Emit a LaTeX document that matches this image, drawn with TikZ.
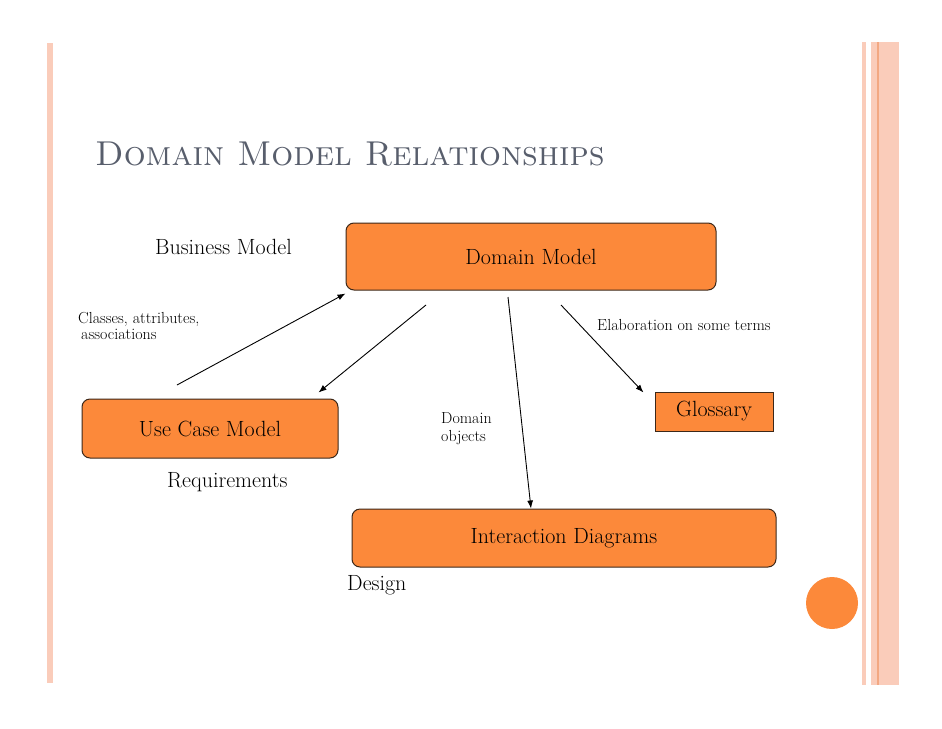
\documentclass[tikz,border=0pt]{standalone}
\usetikzlibrary{arrows.meta,calc}

\definecolor{boxorange}{RGB}{252,137,58}
\definecolor{boxline}{RGB}{60,40,25}
\definecolor{titlegray}{RGB}{88,94,108}
\definecolor{barpink}{RGB}{250,204,186}
\definecolor{barline}{RGB}{243,168,130}

\begin{document}
\begin{tikzpicture}[x=1pt,y=-1pt,
    model/.style={draw=boxline, fill=boxorange, rounded corners=8pt, line width=1pt,
      font=\fontsize{22}{26}\selectfont},
    term/.style={draw=boxline, fill=boxorange, line width=1pt, font=\fontsize{22}{26}\selectfont},
    plain/.style={font=\fontsize{22}{26}\selectfont, inner sep=0pt, anchor=base west},
    note/.style={font=\fontsize{16}{19}\selectfont, inner sep=0pt, anchor=base west},
    link/.style={-{Latex[length=8pt,width=6pt]}, line width=0.9pt}]
  \useasboundingbox (0,0) rectangle (942,728);

  % page decoration
  \fill[barpink] (47,43) rectangle (53,683);
  \fill[barpink] (862,42) rectangle (866,685);
  \fill[barpink] (871,42) rectangle (899,685);
  \fill[barline] (877,42) rectangle (879,685);
  \fill[boxorange] (832,603) circle (26);

  \node[plain, font=\fontsize{34.5}{38}\selectfont\scshape, text=titlegray] (title) at (95,165)
    {Domain Model Relationships};

  % models
  \node[model, minimum width=370, minimum height=67] (domain) at (531,256.5) {Domain Model};
  \node[model, minimum width=256, minimum height=59] (usecase) at (210,428.5) {Use Case Model};
  \node[term, minimum width=118, minimum height=39] (glossary) at (714,411.5) {Glossary};
  \node[model, minimum width=424, minimum height=58] (interact) at (564,538) {Interaction Diagrams};

  % labels
  \node[plain] (business) at (155,254) {Business Model};
  \node[plain] (require) at (167,487) {Requirements};
  \node[plain] (design) at (347,590) {Design};
  \node[note] (classes) at (78,323) {Classes, attributes,};
  \node[note] (assoc) at (81,339) {associations};
  \node[note] (elab) at (597,330) {Elaboration on some terms};
  \node[note] (dom) at (441,423) {Domain};
  \node[note] (obj) at (441,441) {objects};

  % connectors
  \coordinate (ucm-out) at (177,385);
  \coordinate (dm-left) at (426,305);
  \coordinate (dm-mid) at (508,297);
  \coordinate (dm-right) at (561,305);
  \draw[link] (ucm-out) -- ($(domain.south west)+(0,3)$);
  \draw[link] (dm-left) -- ($(usecase.north east)+(-20,-6)$);
  \draw[link] (dm-mid) -- ($(interact.north)+(-33,0)$);
  \draw[link] (dm-right) -- ($(glossary.north west)+(-11,1)$);
\end{tikzpicture}
\end{document}
